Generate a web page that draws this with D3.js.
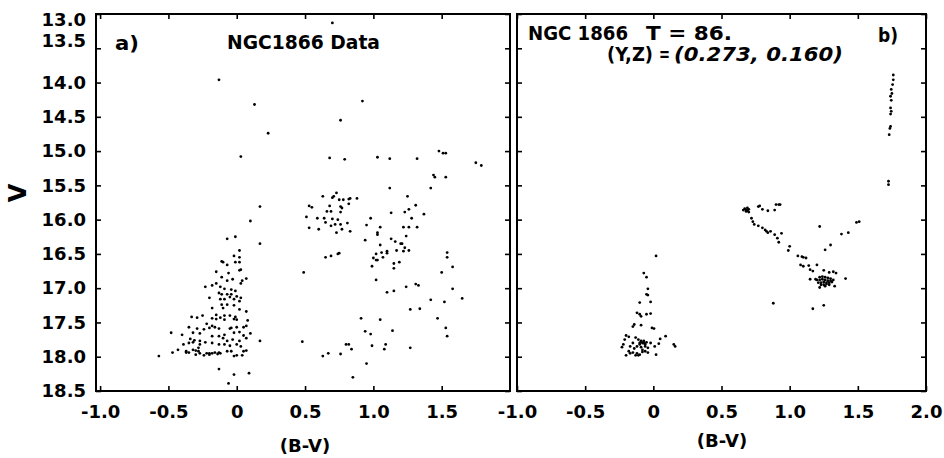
<!DOCTYPE html>
<html>
<head>
<meta charset="utf-8">
<script src="https://cdn.jsdelivr.net/npm/d3@7"></script>
<style>
body { margin: 0; background: #fff; }
</style>
</head>
<body>
<svg id="chart" width="944" height="458"></svg>
<script>
// ---- data: [B-V, V] pairs ----
var yTicks = [13.0, 13.5, 14.0, 14.5, 15.0, 15.5, 16.0, 16.5, 17.0, 17.5, 18.0, 18.5];
var xTicksA = [-1.0, -0.5, 0, 0.5, 1.0, 1.5];
var xLabelsA = ["-1.0", "-0.5", "0", "0.5", "1.0", "1.5"];
var xTicksB = [-1.0, -0.5, 0, 0.5, 1.0, 1.5, 2.0];
var xLabelsB = ["-1.0", "-0.5", "0", "0.5", "1.0", "1.5", "2.0"];

// panel a) observed stars
var obsBright = [[-0.13,13.96],[0.13,14.32],[0.23,14.74],[0.03,15.08],[0.17,15.81],[0.70,13.13]];
var obsMS = [[0.10,16.02],[-0.07,16.28],[-0.01,16.25],[0.17,16.35],[0.02,16.45],[-0.02,16.53],[0.02,16.55],
  [-0.11,16.61],[-0.10,16.62],[-0.07,16.66],[-0.01,16.62],[0.02,16.62],
  [-0.15,16.76],[-0.06,16.78],[0.02,16.74],[0.03,16.73],
  [-0.11,16.84],[-0.07,16.89],[-0.03,16.87],[0.04,16.89],[0.07,16.86],[0.03,16.93],
  [-0.15,16.93],[-0.18,16.96],[-0.23,16.98],[-0.12,16.98],[-0.09,17.01],[-0.04,17.02],[-0.01,17.04],
  [-0.13,17.07],[-0.11,17.09],[-0.07,17.09],[-0.04,17.09],[0.00,17.12],[0.03,17.14],
  [-0.20,17.14],[-0.12,17.16],[-0.09,17.16],[-0.05,17.13],[-0.02,17.16],[0.02,17.19],
  [-0.11,17.24],[-0.07,17.24],[-0.02,17.25],
  [-0.18,17.29],[-0.10,17.29],[0.02,17.31],[0.07,17.34],
  [-0.15,17.39],[-0.09,17.40],[-0.01,17.42],[-0.05,17.40],
  [-0.33,17.42],[-0.29,17.43],[-0.25,17.40],[-0.18,17.44],[-0.15,17.45],[-0.12,17.43],[-0.09,17.46],[-0.02,17.45],[0.00,17.46],[0.08,17.47],
  [-0.22,17.52],[-0.18,17.55],[-0.16,17.57],[-0.04,17.58],[0.00,17.57],[0.05,17.57],[0.07,17.55],
  [-0.35,17.57],[-0.29,17.59],[-0.24,17.60],[-0.20,17.58],[-0.13,17.59],[-0.05,17.59],
  [-0.48,17.65],[-0.40,17.68],[-0.32,17.65],[-0.27,17.66],[-0.18,17.70],[-0.13,17.70],[-0.09,17.68],[-0.02,17.65],[0.02,17.64],[0.05,17.69],[0.10,17.66],
  [-0.34,17.74],[-0.31,17.76],[-0.27,17.77],[-0.23,17.79],[-0.10,17.73],[-0.07,17.77],[-0.03,17.75],[0.02,17.77],[0.07,17.73],
  [-0.39,17.82],[-0.35,17.80],[-0.32,17.79],[-0.27,17.82],[-0.18,17.80],[-0.13,17.82],[-0.09,17.82],[-0.05,17.84],[0.00,17.82],[0.03,17.85],[0.17,17.77],
  [-0.47,17.94],[-0.43,17.90],[-0.37,17.92],[-0.35,17.94],[-0.32,17.90],[-0.28,17.87],[-0.27,17.95],[-0.22,17.95],[-0.18,17.95],[-0.16,17.94],[-0.12,17.95],[-0.07,17.92],[-0.04,17.92],[0.00,17.98],[0.04,17.98],[0.05,17.92],[0.07,17.91],
  [-0.57,17.99],[-0.37,17.94],[-0.30,17.97],[-0.24,17.98],[-0.20,17.97],[-0.02,17.99],
  [-0.30,17.91],[-0.28,17.92],[-0.20,17.95],[-0.14,17.96],[-0.13,17.94],
  [-0.13,18.18],[-0.02,18.26],[0.09,18.24],[-0.06,18.39]];
var obsGiants = [[0.92,14.27],[0.76,14.55],[0.68,15.10],[0.79,15.12],[1.03,15.09],[1.12,15.11],[1.32,15.11],[1.48,15.00],[1.51,15.03],[1.53,15.03],[1.75,15.17],[1.79,15.21],[1.44,15.35],[1.45,15.38],[1.53,15.38],[1.42,15.54],[1.12,15.54],[1.25,15.66],
  [0.63,15.66],[0.70,15.68],[0.71,15.66],[0.73,15.61],[0.75,15.71],[0.78,15.71],[0.82,15.70],[0.83,15.69],[0.88,15.69],
  [0.53,15.80],[0.55,15.82],[0.68,15.80],[0.66,15.88],[0.69,15.88],[0.76,15.81],[0.77,15.83],[0.76,15.89],[0.82,15.77],
  [0.51,15.96],[0.59,15.98],[0.64,15.98],[0.65,16.04],[0.70,15.99],[0.74,16.00],[0.69,16.09],[0.72,16.07],[0.76,16.07],[0.81,16.05],
  [0.53,16.12],[0.60,16.14],[0.73,16.19],[0.77,16.14],[0.83,16.17],
  [0.98,15.98],[0.95,16.08],[1.13,15.90],[1.23,15.89],[1.26,15.85],[1.31,15.79],[1.37,15.92],[1.28,15.98],[1.22,16.11],[1.26,16.11],[1.32,16.11],[1.05,16.11],[1.03,16.19],[1.03,16.22],[1.24,16.24],
  [0.94,16.30],[1.13,16.28],[1.16,16.32],[1.20,16.35],[1.21,16.35],[1.23,16.41],[1.22,16.46],[1.26,16.45],[1.05,16.37],[1.10,16.46],[1.10,16.49],[1.17,16.45],[1.06,16.48],[1.02,16.50],[1.00,16.56],[1.02,16.59],[1.03,16.59],[1.07,16.55],[0.99,16.68],[1.15,16.64],[1.19,16.62],[1.15,16.71],
  [0.75,16.49],[0.74,16.50],[0.69,16.53],[0.65,16.55],
  [1.54,16.48],[1.54,16.55],[1.58,16.69],[1.50,16.77],[0.49,16.77],[1.02,16.88],[1.31,16.94],[1.33,16.96],[1.24,16.98],[1.58,17.01],[1.15,17.04],[1.10,17.06],[1.65,17.15],[1.42,17.17],[1.52,17.20],[1.34,17.30],[1.27,17.31],
  [0.91,17.44],[1.05,17.46],[1.47,17.44],[1.53,17.58],[1.54,17.70],[0.94,17.63],[0.98,17.67],[1.14,17.62],[0.48,17.78],[0.80,17.82],[0.82,17.82],[0.84,17.89],[0.99,17.84],[1.09,17.82],[1.08,17.89],[1.27,17.87],[0.63,17.99],[0.67,17.95],[0.76,17.96],[0.95,18.10],[0.85,18.30]];

// panel b) synthetic model, T = 86
var simMS = [[0.02,16.53],[-0.07,16.78],[-0.05,16.84],[-0.04,17.01],[-0.05,17.09],[-0.04,17.10],[-0.10,17.21],[-0.02,17.20],
  [-0.12,17.36],[-0.10,17.38],[-0.09,17.41],[-0.05,17.38],[-0.02,17.37],
  [-0.14,17.53],[-0.15,17.56],[-0.09,17.54],[-0.01,17.58],[0.005,17.59],
  [-0.20,17.69],[-0.18,17.71],[-0.21,17.75],
  [-0.13,17.72],[-0.11,17.75],[-0.09,17.77],[-0.07,17.80],[-0.05,17.79],
  [-0.10,17.82],[-0.09,17.86],[-0.06,17.85],[-0.04,17.87],[-0.02,17.80],
  [-0.15,17.80],[-0.17,17.85],[-0.23,17.86],[-0.22,17.82],
  [0.05,17.74],[0.09,17.70],[0.04,17.81],[0.01,17.85],[0.15,17.82],[0.16,17.85],
  [-0.18,17.92],[-0.17,17.95],[-0.15,17.94],[-0.12,17.95],[-0.10,17.97],[-0.08,17.93],[-0.06,17.92],[-0.04,17.94],[0.02,17.97],
  [-0.20,17.98],[-0.13,17.98],[-0.11,17.98],
  [-0.09,17.78],[-0.08,17.80],[-0.07,17.77],[-0.10,17.80],[-0.06,17.82],[-0.12,17.85],[-0.08,17.90],[-0.14,17.88]];
var simLoop = [[0.67,15.84],[0.68,15.86],[0.69,15.83],[0.70,15.85],[0.68,15.88],[0.66,15.86],[0.70,15.89],[0.69,15.87],
  [0.77,15.81],[0.78,15.80],[0.80,15.85],[0.84,15.87],[0.89,15.86],[0.90,15.78],[0.92,15.78],[0.93,15.78],
  [0.72,15.98],[0.73,16.03],[0.74,16.07],[0.77,16.09],[0.80,16.12],[0.82,16.15],[0.83,16.17],[0.84,16.19],[0.86,16.17],[0.89,16.22],[0.91,16.27],[0.94,16.20],[0.92,16.33],[1.00,16.39],[0.99,16.45],[1.06,16.53],[1.09,16.54],[1.10,16.55],[1.12,16.56],[1.08,16.66],[1.10,16.68],[1.14,16.67],[1.15,16.73],[1.17,16.75],[1.20,16.66],[1.15,16.87],[1.19,16.87]];
var simClump = [[1.22,16.84],[1.24,16.83],[1.26,16.84],[1.28,16.85],[1.30,16.86],[1.20,16.88],[1.22,16.88],[1.24,16.87],[1.26,16.88],[1.28,16.89],[1.30,16.89],[1.32,16.88],[1.21,16.92],[1.23,16.92],[1.25,16.91],[1.27,16.92],[1.29,16.92],[1.31,16.91],[1.23,16.95],[1.25,16.95],[1.27,16.94],[1.29,16.95],[1.26,16.97],
  [1.25,16.74],[1.29,16.77],[1.32,16.76],[1.34,16.78],[1.41,16.86],[1.33,16.97],[1.22,16.99],
  [1.26,16.44],[1.30,16.37],[1.22,16.10],[1.38,16.21],[1.43,16.19],[1.49,16.04],[1.51,16.03],
  [0.88,17.22],[1.17,17.30],[1.25,17.25]];
var simAGB = [[1.76,13.89],[1.76,13.96],[1.755,14.03],[1.745,14.10],[1.75,14.16],[1.74,14.20],[1.745,14.26],[1.74,14.37],[1.745,14.42],[1.74,14.46],[1.74,14.64],[1.735,14.67],[1.73,14.76],[1.725,15.44],[1.725,15.49]];

var svg = d3.select("#chart");
var FONT = "'DejaVu Sans', sans-serif";

var y = d3.scaleLinear().domain([13, 18.5]).range([14, 391]);
var xA = d3.scaleLinear().domain([-1.03, 2.0]).range([96, 510]);
var xB = d3.scaleLinear().domain([-1.0, 2.0]).range([517, 926]);

function panel(x, showY, xTicks, xLabels) {
  var g = svg.append("g");
  var r = x.range();

  // bottom axis with labels, ticks pointing in
  var bottom = g.append("g").attr("transform", "translate(0,391)")
    .call(d3.axisBottom(x).tickValues(xTicks).tickSize(-5).tickPadding(14)
      .tickFormat(function(d, i) { return xLabels[i]; }));
  // top axis, ticks only
  g.append("g").attr("transform", "translate(0,14)")
    .call(d3.axisTop(x).tickValues(xTicks).tickSize(-5).tickFormat(""));
  var left = g.append("g").attr("transform", "translate(" + r[0] + ",0)")
    .call(d3.axisLeft(y).tickValues(yTicks).tickSize(-5).tickPadding(10)
      .tickFormat(showY ? d3.format(".1f") : ""));
  g.append("g").attr("transform", "translate(" + r[1] + ",0)")
    .call(d3.axisRight(y).tickValues(yTicks).tickSize(-5).tickFormat(""));

  g.selectAll(".domain").remove();
  g.selectAll(".tick line").attr("stroke", "#000").attr("stroke-width", 1.6);
  g.selectAll(".tick text").attr("fill", "#000");
  [bottom, left].forEach(function(a) {
    a.attr("font-family", FONT).attr("font-size", 18).attr("font-weight", "bold");
  });

  if (showY) {
    // top two labels are squeezed together in the original
    left.selectAll(".tick text").attr("dy", function(d) {
      return d === 13 ? "0.62em" : d === 13.5 ? "-0.12em" : "0.32em";
    });
  }

  // frame
  g.append("rect")
    .attr("x", r[0]).attr("y", 14)
    .attr("width", r[1] - r[0]).attr("height", 377)
    .attr("fill", "none").attr("stroke", "#000").attr("stroke-width", 2);

  return g;
}

var gA = panel(xA, true, xTicksA, xLabelsA);
var gB = panel(xB, false, xTicksB, xLabelsB);

function stars(g, x, data) {
  g.append("g").selectAll("circle")
    .data(data).enter().append("circle")
    .attr("cx", function(d) { return x(d[0]); })
    .attr("cy", function(d) { return y(d[1]); })
    .attr("r", 1.4)
    .attr("fill", "#000");
}

stars(gA, xA, obsBright);
stars(gA, xA, obsMS);
stars(gA, xA, obsGiants);
stars(gB, xB, simMS);
stars(gB, xB, simLoop);
stars(gB, xB, simClump);
stars(gB, xB, simAGB);

// axis titles
svg.append("text")
  .attr("transform", "translate(26,193) rotate(-90)")
  .attr("text-anchor", "middle")
  .attr("font-family", FONT).attr("font-size", 24).attr("font-weight", "bold")
  .text("V");

[[305, 452], [722, 447]].forEach(function(p) {
  svg.append("text")
    .attr("x", p[0]).attr("y", p[1])
    .attr("text-anchor", "middle")
    .attr("font-family", FONT).attr("font-size", 18).attr("font-weight", "bold")
    .text("(B-V)");
});

// panel labels
function label(txt, x0, yb, w, size, italic) {
  svg.append("text")
    .attr("x", x0).attr("y", yb)
    .attr("font-family", FONT).attr("font-size", size).attr("font-weight", "bold")
    .attr("font-style", italic ? "italic" : "normal")
    .attr("textLength", w).attr("lengthAdjust", "spacingAndGlyphs")
    .text(txt);
}
label("a)", 115, 50, 24, 19);
label("NGC1866 Data", 227, 49, 153, 19);
label("NGC 1866", 528, 40, 100, 19);
label("T = 86.", 646, 40, 86, 19);
label("(Y,Z)", 607, 61, 46, 19);
label("=", 659, 61, 11, 19);
label("(0.273, 0.160)", 674, 61, 169, 19, true);
label("b)", 878, 42, 20, 19);
</script>
</body>
</html>
